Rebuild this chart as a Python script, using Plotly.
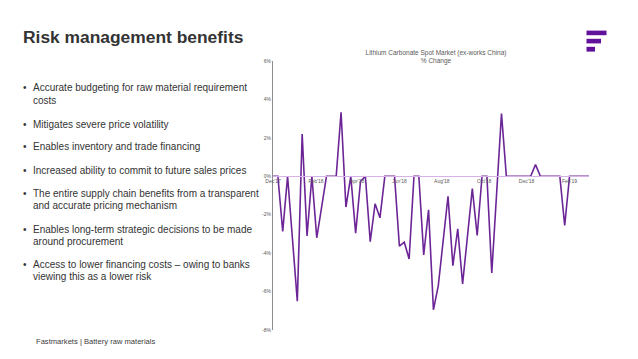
import plotly.graph_objects as go
import pandas as pd

W, H = 638, 359
OFF = 8  # page body margin offset

# ---- data ----
start_date = "2017-12-01"
pct_change = [0, 0, -2.87, 0, -3.25, -6.5, 2.2, -3.1, 0, -3.2,
              -1.6, 0, 0, 0, 3.33, -1.6, 0, -2.96, -0.26, 0,
              -3.4, -1.43, -2.16, 0, 0, 0, -3.64, -3.43, -4.3, 0,
              0, -4.09, -1.74, -6.95, -5.69, -3.37, -1.04, -4.65, -2.73, -5.6,
              -3.12, -0.64, -3.08, 0, 0, -5.03, -0.88, 3.27, 0, 0,
              0, 0, 0, 0, 0.61, 0, 0, 0, 0, 0,
              -2.56, 0, 0, 0, 0, 0]
dates = pd.date_range(start_date, periods=len(pct_change), freq="7D")
y_tickvals = [6, 4, 2, 0, -2, -4, -6, -8]
y_ticktext = ["6%", "4%", "2%", "0%", "-2%", "-4%", "-6%", "-8%"]

title = "Risk management benefits"
bullets = [
    ["Accurate budgeting for raw material requirement", "costs"],
    ["Mitigates severe price volatility"],
    ["Enables inventory and trade financing"],
    ["Increased ability to commit to future sales prices"],
    ["The entire supply chain benefits from a transparent", "and accurate pricing mechanism"],
    ["Enables long-term strategic decisions to be made", "around procurement"],
    ["Access to lower financing costs \u2013 owing to banks", "viewing this as a lower risk"],
]
bullet_y = [88, 124, 147, 170, 193, 229, 264]
footer = "Fastmarkets | Battery raw materials"
chart_title = "Lithium Carbonate Spot Market (ex-works China)<br>% Change"


def px(x):
    return (x - OFF) / W


def py(y):
    return 1 - (y - OFF) / H


plot_l, plot_r, plot_t, plot_b = 273, 589, 61, 330
ydom = [py(plot_b), py(plot_t)]
zero_pos = ydom[0] + (0 - (-8)) / 14 * (ydom[1] - ydom[0])

fig = go.Figure()
fig.add_trace(go.Scatter(x=dates, y=pct_change, mode="lines",
                         line=dict(color="#6c2596", width=1.6),
                         hoverinfo="skip", showlegend=False))

font_fam = "Liberation Sans, Arial, sans-serif"
annotations = []
annotations.append(dict(text="<b>" + title + "</b>", x=px(21), y=py(37), xref="paper", yref="paper",
                        xanchor="left", yanchor="middle", showarrow=False,
                        font=dict(size=17.4, color="#333333", family=font_fam)))
line_gap = 12.6
for lines, yb in zip(bullets, bullet_y):
    annotations.append(dict(text="\u2022", x=px(21), y=py(yb), xref="paper", yref="paper",
                            xanchor="left", yanchor="middle", showarrow=False,
                            font=dict(size=10, color="#333333", family=font_fam)))
    for k, ln in enumerate(lines):
        annotations.append(dict(text=ln, x=px(31), y=py(yb + k * line_gap), xref="paper", yref="paper",
                                xanchor="left", yanchor="middle", showarrow=False,
                                font=dict(size=10, color="#333333", family=font_fam)))
annotations.append(dict(text=footer, x=px(34), y=py(341), xref="paper", yref="paper",
                        xanchor="left", yanchor="middle", showarrow=False,
                        font=dict(size=7.6, color="#404040", family=font_fam)))

logo_color = "#62119a"
shapes = [
    dict(type="rect", xref="paper", yref="paper", x0=px(586.5), x1=px(606.5), y0=py(35.2), y1=py(30.6),
         fillcolor=logo_color, line=dict(width=0)),
    dict(type="rect", xref="paper", yref="paper", x0=px(586.5), x1=px(601), y0=py(43.4), y1=py(38.8),
         fillcolor=logo_color, line=dict(width=0)),
    dict(type="rect", xref="paper", yref="paper", x0=px(586.5), x1=px(595), y0=py(51.6), y1=py(46.8),
         fillcolor=logo_color, line=dict(width=0)),
]

fig.update_layout(
    width=W, height=H,
    margin=dict(l=0, r=0, t=0, b=0, autoexpand=False),
    paper_bgcolor="white", plot_bgcolor="white",
    title=dict(text=chart_title, x=px(436), y=py(55), xref="paper", yref="paper",
               xanchor="center", yanchor="middle",
               font=dict(size=6.5, color="#595959", family=font_fam)),
    xaxis=dict(domain=[px(plot_l), px(plot_r)], anchor="free", position=zero_pos,
               range=[dates[0], dates[-1]], type="date",
               tick0=start_date, dtick="M2", tickformat="%b'%y",
               showgrid=False, zeroline=False, showline=True,
               linecolor="#d7b2ea", linewidth=1, ticks="",
               tickfont=dict(size=5, color="#595959", family=font_fam)),
    yaxis=dict(domain=ydom, range=[-8, 6], tickvals=y_tickvals, ticktext=y_ticktext,
               showgrid=False, zeroline=False, showline=True,
               linecolor="#8c8c8c", linewidth=1, ticks="",
               tickfont=dict(size=5, color="#595959", family=font_fam)),
    annotations=annotations,
    shapes=shapes,
)

fig.write_html("out.html")
